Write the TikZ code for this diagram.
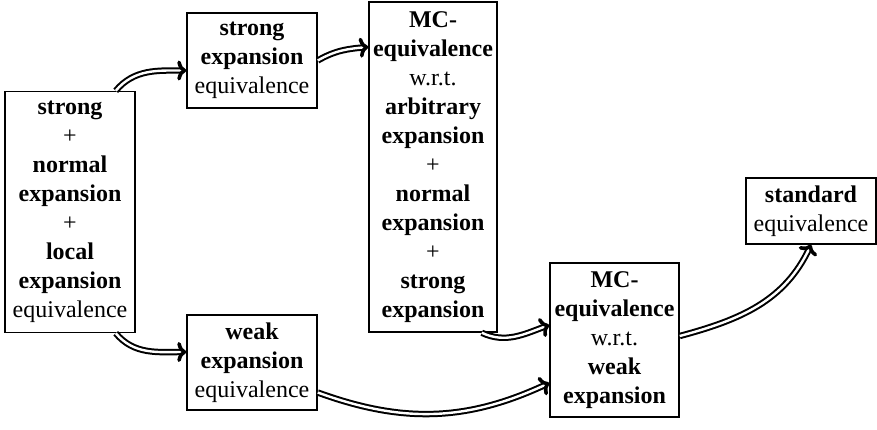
\documentclass[tikz,border=0pt]{standalone}
\usepackage{fontspec}
\setmainfont{Liberation Serif}
\usetikzlibrary{arrows.meta}
\begin{document}
\begin{tikzpicture}[x=0.5pt,y=-0.5pt,
  box/.style={draw,line width=0.75pt,align=center,inner sep=0pt,
    font=\fontsize{12}{14.5}\selectfont},
  imp/.style={double,line width=1pt,double distance=1.2pt,
    -{Computer Modern Rightarrow[length=4.5pt,width=10pt,line width=1.8pt]}}]
\useasboundingbox (0,0) rectangle (877,429);

\node[box,minimum width=65pt,minimum height=120.5pt] (A) at (70,212)
  {\textbf{strong}\\+\\\textbf{normal}\\\textbf{expansion}\\+\\\textbf{local}\\\textbf{expansion}\\equivalence};
\node[box,minimum width=65pt,minimum height=47.5pt] (B) at (252,60.5)
  {\textbf{strong}\\\textbf{expansion}\\equivalence};
\node[box,minimum width=64pt,minimum height=165pt] (C) at (433,167)
  {\textbf{MC-}\\\textbf{equivalence}\\w.r.t.\\\textbf{arbitrary}\\\textbf{expansion}\\+\\\textbf{normal}\\\textbf{expansion}\\+\\\textbf{strong}\\\textbf{expansion}};
\node[box,minimum width=65pt,minimum height=47.5pt] (D) at (252,362.5)
  {\textbf{weak}\\\textbf{expansion}\\equivalence};
\node[box,minimum width=64.5pt,minimum height=77pt] (E) at (614.5,340)
  {\textbf{MC-}\\\textbf{equivalence}\\w.r.t.\\\textbf{weak}\\\textbf{expansion}};
\node[box,minimum width=65pt,minimum height=33pt] (F) at (811,211)
  {\textbf{standard}\\equivalence};

\draw[imp] ([xshift=-10pt]A.north east) to[out=50,in=180] ([yshift=-5pt]B.west);
\draw[imp] (B.east) to[out=30,in=185] (C.west |- 0,47);
\draw[imp] ([xshift=-10pt]A.south east) to[out=-50,in=180] (D.west |- 0,352);
\draw[imp] ([xshift=-8pt]C.south east) to[out=-25,in=200] (E.west |- 0,325);
\draw[imp] ([yshift=-15pt]D.east) to[out=-20,in=205] (E.west |- 0,383);
\draw[imp] ([yshift=2pt]E.east) to[out=15,in=-115] (F.south);
\end{tikzpicture}
\end{document}
